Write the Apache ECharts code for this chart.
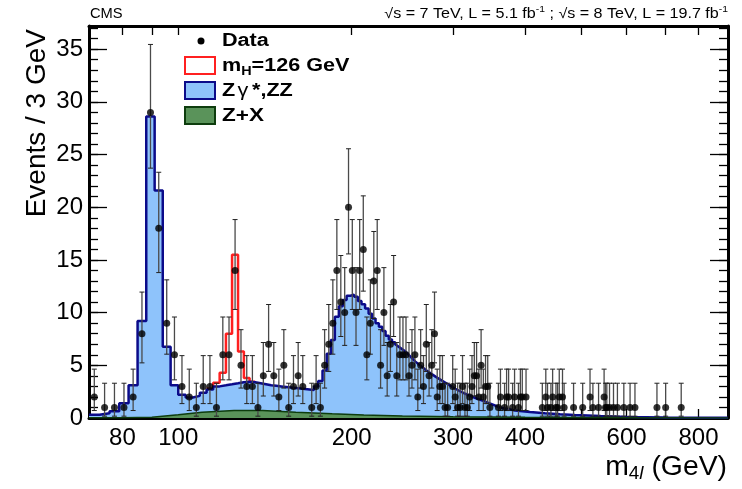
<!DOCTYPE html>
<html><head><meta charset="utf-8">
<script src="https://cdn.jsdelivr.net/npm/echarts@6/dist/echarts.min.js"></script>
<style>html,body{margin:0;padding:0;background:#fff}#c{width:742px;height:489px}</style>
</head><body><div id="c"></div><script>
// ---- axis ticks / labels ----
const xTickLabels = [80, 100, 200, 300, 400, 600, 800];
const xTickMarks = [70, 80, 90, 100, 200, 300, 400, 500, 600, 700, 800, 900];
const yTickLabels = [0, 5, 10, 15, 20, 25, 30, 35];
const yMinorTicks = [0,1,2,3,4,5,6,7,8,9,10,11,12,13,14,15,16,17,18,19,20,21,22,23,24,25,26,27,28,29,30,31,32,33,34,35,36,37];
const BIN_WIDTH = 3; // "Events / 3 GeV"

// ---- Z gamma*, ZZ (+ Z+X) stacked background, 3 GeV bins ----
const bkgBinLow = [70,73,76,79,82,85,88,91,94,97,
  100,103,106,109,112,115,118,121,124,127,
  130,133,136,139,142,145,148,151,154,157,
  160,163,166,169,172,175,178,181,184,187,
  190,193,196,199,202,205,208,211,214,217,
  220,223,226,229,232,235];
const bkgBinValue = [0.3,0.45,0.65,1.4,3.1,9.2,28.6,21.6,6.75,3.1,
  2.2,1.95,2.1,2.4,2.7,3.0,3.1,3.2,3.3,3.4,
  3.45,3.4,3.3,3.2,3.1,3.05,3.0,2.95,2.9,2.85,
  2.8,2.75,2.7,2.65,3.0,3.5,4.5,6.1,7.4,9.6,
  10.6,11.2,11.6,11.7,11.5,11.1,10.8,10.4,9.9,9.45,
  9.0,8.65,8.25,7.8,7.45,7.2];
// high-mass tail of the same background (bins too narrow to see steps)
const bkgTailMass = [238,248,258,269,280,291,302,315,328,341,362,384,408,433,460,488,541,600,700,900];
const bkgTailValue = [7.0,6.3,5.35,4.55,3.9,3.35,2.8,2.3,1.9,1.55,1.0,0.72,0.57,0.44,0.35,0.28,0.18,0.1,0.05,0.02];

// ---- m_H = 126 GeV signal on top of background ----
const sigBinLow = [112,115,118,121,124,127,130,133];
const sigBinValue = [2.8,3.35,4.3,8.0,15.5,6.3,3.8,3.45];

// ---- Z+X ----
const zxMass = [70,80,90,100,110,125,140,160,185,210,245,300,400,600,900];
const zxValue = [0.02,0.03,0.06,0.3,0.55,0.72,0.7,0.55,0.4,0.29,0.2,0.12,0.06,0.02,0.01];

// ---- Data (bin low edge, event count) ----
const dataBinLow = [70,73,76,79,82,85,88,91,94,97,
  100,103,106,109,112,115,118,121,124,127,
  130,133,136,139,142,145,148,151,154,157,
  160,163,169,172,175,178,181,184,187,190,
  193,196,199,202,205,208,211,214,217,220,
  223,226,229,232,235,238,241,244,247,250,
  253,256,259,262,265,268,271,274,277,280,
  283,286,289,292,298,301,304,307,310,313,
  316,319,322,325,328,331,334,337,340,343,
  346,358,361,367,370,373,379,382,388,391,
  394,400,427,433,436,442,445,451,454,457,
  463,466,484,502,517,523,535,547,550,553,
  559,568,577,592,607,619,676,700,745];
const dataCount = [2,1,1,1,2,8,29,18,9,6,
  3,2,1,3,3,1,6,6,14,5,
  3,3,1,4,7,4,2,5,1,3,
  4,3,1,3,1,5,7,9,14,11,
  10,20,14,10,14,16,6,9,13,14,
  5,10,4,7,11,4,6,6,6,4,
  5,6,2,5,3,7,4,5,8,2,
  3,3,1,1,3,2,1,1,3,1,
  1,2,3,4,4,2,5,2,3,3,
  1,1,2,1,2,2,1,2,1,2,
  2,2,1,2,1,1,2,1,1,2,
  2,1,1,1,2,1,1,2,1,1,
  1,1,1,1,1,1,1,1,1];
// 68% Poisson (Garwood) interval bounds indexed by count
const poissonLow = [0,0.173,0.708,1.367,2.086,2.840,3.620,4.419,5.232,6.057,6.891,7.734,8.585,9.441,10.30,11.17,12.04,12.92,13.80,14.68,15.57,16.46,17.36,18.26,19.16,20.07,20.97,21.88,22.79,23.71];
const poissonHigh = [1.841,3.300,4.638,5.918,7.163,8.382,9.584,10.77,11.95,13.11,14.27,15.42,16.56,17.70,18.83,19.96,21.08,22.20,23.32,24.44,25.55,26.66,27.76,28.87,29.97,31.07,32.16,33.26,34.35,35.45];

// ---- build series data ----
function stepPoints(lows, vals) {
  const pts = [];
  lows.forEach((lo, i) => { pts.push([lo, vals[i]]); pts.push([lo + BIN_WIDTH, vals[i]]); });
  return pts;
}
const bkgPts = stepPoints(bkgBinLow, bkgBinValue);
bkgTailMass.forEach((m, i) => bkgPts.push([m, bkgTailValue[i]]));
const sigPts = stepPoints(sigBinLow, sigBinValue);
const zxPts = zxMass.map((m, i) => [m, zxValue[i]]);
const dataPts = dataBinLow.map((lo, i) => [lo + BIN_WIDTH / 2, dataCount[i]]);
const errPts = dataBinLow.map((lo, i) => [lo + BIN_WIDTH / 2, poissonLow[dataCount[i]], poissonHigh[dataCount[i]]]);

const FONT = '"Liberation Sans", Arial, Helvetica, sans-serif';
const X_MIN = 70, X_MAX = 900, Y_MIN = 0, Y_MAX = 37.2;

function xAx(pos, labels) {
  return {
    type: 'log', logBase: 10, min: X_MIN, max: X_MAX, position: pos,
    axisLine: { onZero: false, lineStyle: { color: '#000', width: 3 } },
    axisTick: { inside: true, length: 9, customValues: xTickMarks, lineStyle: { color: '#000', width: 1.3 } },
    axisLabel: labels ? { customValues: xTickLabels, fontSize: 24, fontFamily: FONT, color: '#000', margin: 8 } : { show: false },
    splitLine: { show: false }, minorTick: { show: false }
  };
}
function yAx(pos, major, labels) {
  return {
    type: 'value', min: Y_MIN, max: Y_MAX, position: pos,
    axisLine: { show: major, onZero: false, lineStyle: { color: '#000', width: 3 } },
    axisTick: { inside: true, length: major ? 18 : 9, customValues: major ? yTickLabels : yMinorTicks, lineStyle: { color: '#000', width: 1.3 } },
    axisLabel: labels ? { customValues: yTickLabels, fontSize: 24, fontFamily: FONT, color: '#000', margin: 6 } : { show: false },
    splitLine: { show: false }
  };
}
function label(x, y, text, rich, font, sx) {
  const st = { text: text, fill: '#000', align: 'left', verticalAlign: 'middle', textAlign: 'left', textVerticalAlign: 'middle' };
  if (rich) st.rich = rich; else st.font = font;
  return { type: 'text', x: x, y: y, scaleX: sx || 1, style: st };
}
const LEG = 'bold 18px ' + FONT;

const chart = echarts.init(document.getElementById('c'));
chart.setOption({
  animation: false,
  backgroundColor: '#fff',
  grid: { left: 89, right: 14, top: 26, bottom: 71, containLabel: false },
  xAxis: [xAx('bottom', true), xAx('top', false)],
  yAxis: [yAx('left', true, true), yAx('left', false, false), yAx('right', true, false), yAx('right', false, false)],
  series: [
    { type: 'line', data: sigPts, symbol: 'none', z: 1, silent: true,
      lineStyle: { color: '#ff2020', width: 2.5 } },
    { type: 'line', data: bkgPts, symbol: 'none', z: 2, silent: true,
      lineStyle: { color: '#0b0b8a', width: 2.5 }, areaStyle: { color: '#8ec3fb', opacity: 1 } },
    { type: 'line', data: zxPts, symbol: 'none', z: 3, silent: true,
      lineStyle: { color: '#0e3d0e', width: 1.5 }, areaStyle: { color: '#5a935a', opacity: 1 } },
    { type: 'custom', data: errPts, z: 4, silent: true, encode: { x: 0, y: [1, 2] },
      renderItem: function (params, api) {
        const x = api.value(0), lo = api.value(1), hi = api.value(2);
        const a = api.coord([x, lo]), b = api.coord([x, hi]);
        const c = 2.5;
        return { type: 'group', children: [
          { type: 'line', shape: { x1: a[0], y1: a[1], x2: b[0], y2: b[1] }, style: { stroke: '#4a4a4a', lineWidth: 1.3 } },
          { type: 'line', shape: { x1: b[0] - c, y1: b[1], x2: b[0] + c, y2: b[1] }, style: { stroke: '#222', lineWidth: 1 } },
          { type: 'line', shape: { x1: a[0] - c, y1: a[1], x2: a[0] + c, y2: a[1] }, style: { stroke: '#222', lineWidth: 1 } }
        ] };
      } },
    { type: 'scatter', data: dataPts, z: 5, silent: true, symbol: 'circle', symbolSize: 7,
      itemStyle: { color: '#000' } }
  ],
  graphic: [
    label(90, 14, 'CMS', null, '14px ' + FONT, 1.05),
    { type: 'text', x: 728, y: 14, scaleX: 1.15, style: {
        text: '{a|√s = 7 TeV, L = 5.1 fb}{s|-1}{a| ; √s = 8 TeV, L = 19.7 fb}{s|-1}',
        rich: { a: { font: '14px ' + FONT, fill: '#000' }, s: { font: '9px ' + FONT, fill: '#000', padding: [0, 0, 8, 0] } },
        align: 'right', verticalAlign: 'middle', textAlign: 'right', textVerticalAlign: 'middle' } },
    { type: 'text', x: 37, y: 29, rotation: Math.PI / 2, style: {
        text: 'Events / 3 GeV', font: '28px ' + FONT, fill: '#000',
        align: 'right', verticalAlign: 'middle', textAlign: 'right', textVerticalAlign: 'middle' } },
    { type: 'text', x: 727, y: 468, scaleX: 1.05, style: {
        text: '{a|m}{b|4}{c|l}{a| (GeV)}',
        rich: { a: { font: '27px ' + FONT, fill: '#000' },
                b: { font: '18px ' + FONT, fill: '#000', padding: [12, 0, 0, 0] },
                c: { font: 'italic 18px ' + FONT, fill: '#000', padding: [12, 0, 0, 0] } },
        align: 'right', verticalAlign: 'middle', textAlign: 'right', textVerticalAlign: 'middle' } },
    // legend
    { type: 'circle', shape: { cx: 201, cy: 41, r: 3.5 }, style: { fill: '#000' } },
    label(222, 41, 'Data', null, LEG, 1.2),
    { type: 'rect', shape: { x: 185, y: 57, width: 30, height: 17 }, style: { fill: '#fff', stroke: '#ff2020', lineWidth: 2 } },
    label(222, 66, '{a|m}{b|H}{a|=126 GeV}', { a: { font: LEG, fill: '#000' }, b: { font: 'bold 12px ' + FONT, fill: '#000', padding: [12, 0, 0, 0] } }, null, 1.2),
    { type: 'rect', shape: { x: 185, y: 82, width: 30, height: 17 }, style: { fill: '#8ec3fb', stroke: '#0b0b8a', lineWidth: 2 } },
    label(222, 91, '{a|Z}{g|γ}{a|*,ZZ}', { a: { font: LEG, fill: '#000' }, g: { font: '18px ' + FONT, fill: '#000', padding: [0, 3, 0, 2] } }, null, 1.2),
    { type: 'rect', shape: { x: 185, y: 107, width: 30, height: 17 }, style: { fill: '#5a935a', stroke: '#0e3d0e', lineWidth: 2 } },
    label(222, 116, 'Z+X', null, LEG, 1.25)
  ]
});
</script></body></html>
